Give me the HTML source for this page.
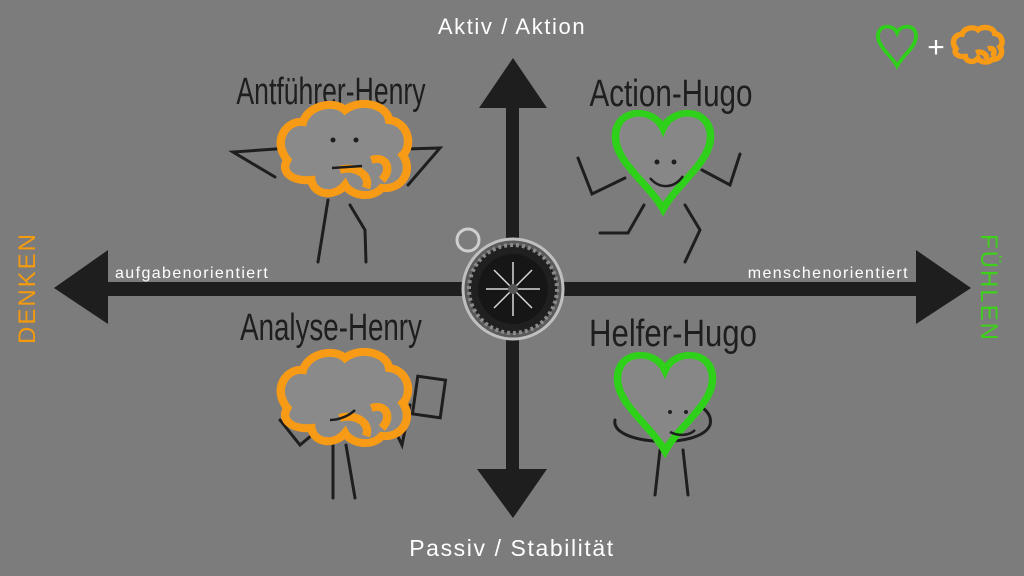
<!DOCTYPE html>
<html><head><meta charset="utf-8"><style>
html,body{margin:0;padding:0;background:#7c7c7c;}
svg{display:block}
.t{font-family:"Liberation Sans Narrow","Liberation Sans",sans-serif;fill:#1e1e1e;font-size:38px;}
.w{font-family:"Liberation Sans",sans-serif;fill:#fff;}
</style></head><body>
<svg width="1024" height="576" viewBox="0 0 1024 576" xmlns="http://www.w3.org/2000/svg">
<rect width="1024" height="576" fill="#7c7c7c"/>
<g fill="#1f1e1e">
<rect x="506" y="100" width="13" height="380"/>
<rect x="100" y="282" width="820" height="14"/>
<polygon points="513,58 479,108 547,108"/>
<polygon points="513,518 477,469 547,469"/>
<polygon points="54,288 108,250 108,324"/>
<polygon points="971,288 916,250 916,324"/>
</g>
<text class="w" x="512" y="34" font-size="22" letter-spacing="1.6" text-anchor="middle">Aktiv / Aktion</text>
<text class="w" x="512" y="556" font-size="23" letter-spacing="1.6" text-anchor="middle">Passiv / Stabilität</text>
<text class="w" x="115" y="278" font-size="16" letter-spacing="1.4">aufgabenorientiert</text>
<text class="w" x="909" y="278" font-size="16" letter-spacing="1.4" text-anchor="end">menschenorientiert</text>
<text x="35" y="288" font-family="Liberation Sans,sans-serif" font-size="24" fill="#f39a0f" text-anchor="middle" letter-spacing="2" transform="rotate(-90 35 288)">DENKEN</text>
<text x="981" y="288" font-family="Liberation Sans,sans-serif" font-size="24" fill="#3ed11b" text-anchor="middle" letter-spacing="2" transform="rotate(90 981 288)">FÜHLEN</text>
<text class="t" x="331" y="104" text-anchor="middle" transform="translate(331 0) scale(0.7 1) translate(-331 0)">Antführer-Henry</text>
<text class="t" x="671" y="106" text-anchor="middle" transform="translate(671 0) scale(0.78 1) translate(-671 0)">Action-Hugo</text>
<text class="t" x="331" y="340" text-anchor="middle" transform="translate(331 0) scale(0.73 1) translate(-331 0)">Analyse-Henry</text>
<text class="t" x="673" y="346" text-anchor="middle" transform="translate(673 0) scale(0.82 1) translate(-673 0)">Helfer-Hugo</text>
<defs>
<path id="brain" d="M-55,10 C-70,-10 -55,-30 -40,-28 C-35,-45 -10,-50 0,-40 C15,-52 40,-45 42,-30 C60,-28 65,-5 55,5 C65,20 55,40 35,38 C25,50 5,45 0,35 C-10,48 -30,45 -32,30 C-50,32 -62,22 -55,10 Z M-5,20 C10,15 25,25 20,38 M25,10 C40,5 45,20 35,30"/>
<path id="heart" d="M0,-35 C10,-60 50,-60 50,-25 C50,5 15,30 0,60 C-15,30 -50,5 -50,-25 C-50,-60 -10,-60 0,-35 Z"/>
</defs>
<g stroke="#1e1e1e" stroke-width="3" fill="none" stroke-linecap="round">
<path d="M290,148 L233,152 L275,177"/><path d="M405,149 L440,148 L408,185"/>
<path d="M328,200 L318,262 M350,205 L365,230 L366,262"/>
<path d="M578,158 L592,194 L625,178"/><path d="M702,170 L730,185 L740,154"/>
<path d="M644,205 L628,233 L600,233 M685,205 L700,230 L685,262"/>
<path d="M280,420 L300,445 L330,420"/><path d="M390,420 L402,445 L410,405"/><rect x="415" y="378" width="28" height="38" transform="rotate(8 429 397)"/>
<path d="M333,445 L333,498 M346,445 L355,498"/>
<path d="M615,420 C610,445 700,450 710,425 C715,405 680,395 660,405"/>
<path d="M660,450 L655,495 M683,450 L688,495"/>
</g>
<use href="#brain" transform="translate(345,150) scale(1.05 1)" fill="#8a8a8a" stroke="#f79b16" stroke-width="8"/>
<use href="#brain" transform="translate(345,398) scale(1.05 1)" fill="#8a8a8a" stroke="#f79b16" stroke-width="8"/>
<use href="#heart" transform="translate(663,158) scale(0.95 0.85)" fill="#878787" stroke="#2fd01a" stroke-width="8"/>
<use href="#heart" transform="translate(665,400) scale(0.95 0.85)" fill="#878787" stroke="#2fd01a" stroke-width="8"/>
<g fill="#1e1e1e"><circle cx="333" cy="140" r="2.5"/><circle cx="356" cy="140" r="2.5"/><circle cx="657" cy="162" r="2.5"/><circle cx="674" cy="162" r="2.5"/><circle cx="670" cy="412" r="2"/><circle cx="686" cy="412" r="2"/></g>
<g stroke="#1e1e1e" stroke-width="2.5" fill="none"><path d="M332,168 L362,166"/><path d="M650,178 C660,190 675,188 683,176"/><path d="M670,432 C680,437 690,435 695,430"/><path d="M330,420 C340,420 350,415 355,410"/></g>
<circle cx="468" cy="240" r="11" fill="none" stroke="#cfcfcf" stroke-width="3"/>
<circle cx="513" cy="289" r="50" fill="#5a5a5a" stroke="#bfbfbf" stroke-width="3"/>
<circle cx="513" cy="289" r="44" fill="#202020" stroke="#8a8a8a" stroke-width="4" stroke-dasharray="3 3"/>
<circle cx="513" cy="289" r="35" fill="#161616"/>
<g stroke="#d8d8d8" stroke-width="1.5"><path d="M513,262 L513,316 M486,289 L540,289 M494,270 L532,308 M532,270 L494,308"/></g>
<circle cx="513" cy="289" r="5" fill="#555"/>
<use href="#heart" transform="translate(897,45) scale(0.38 0.35)" fill="none" stroke="#2fd01a" stroke-width="10"/>
<text class="w" x="936" y="57" font-size="30" text-anchor="middle">+</text>
<use href="#brain" transform="translate(978,45) scale(0.4 0.38)" fill="none" stroke="#f79b16" stroke-width="14"/>
</svg>
</body></html>
